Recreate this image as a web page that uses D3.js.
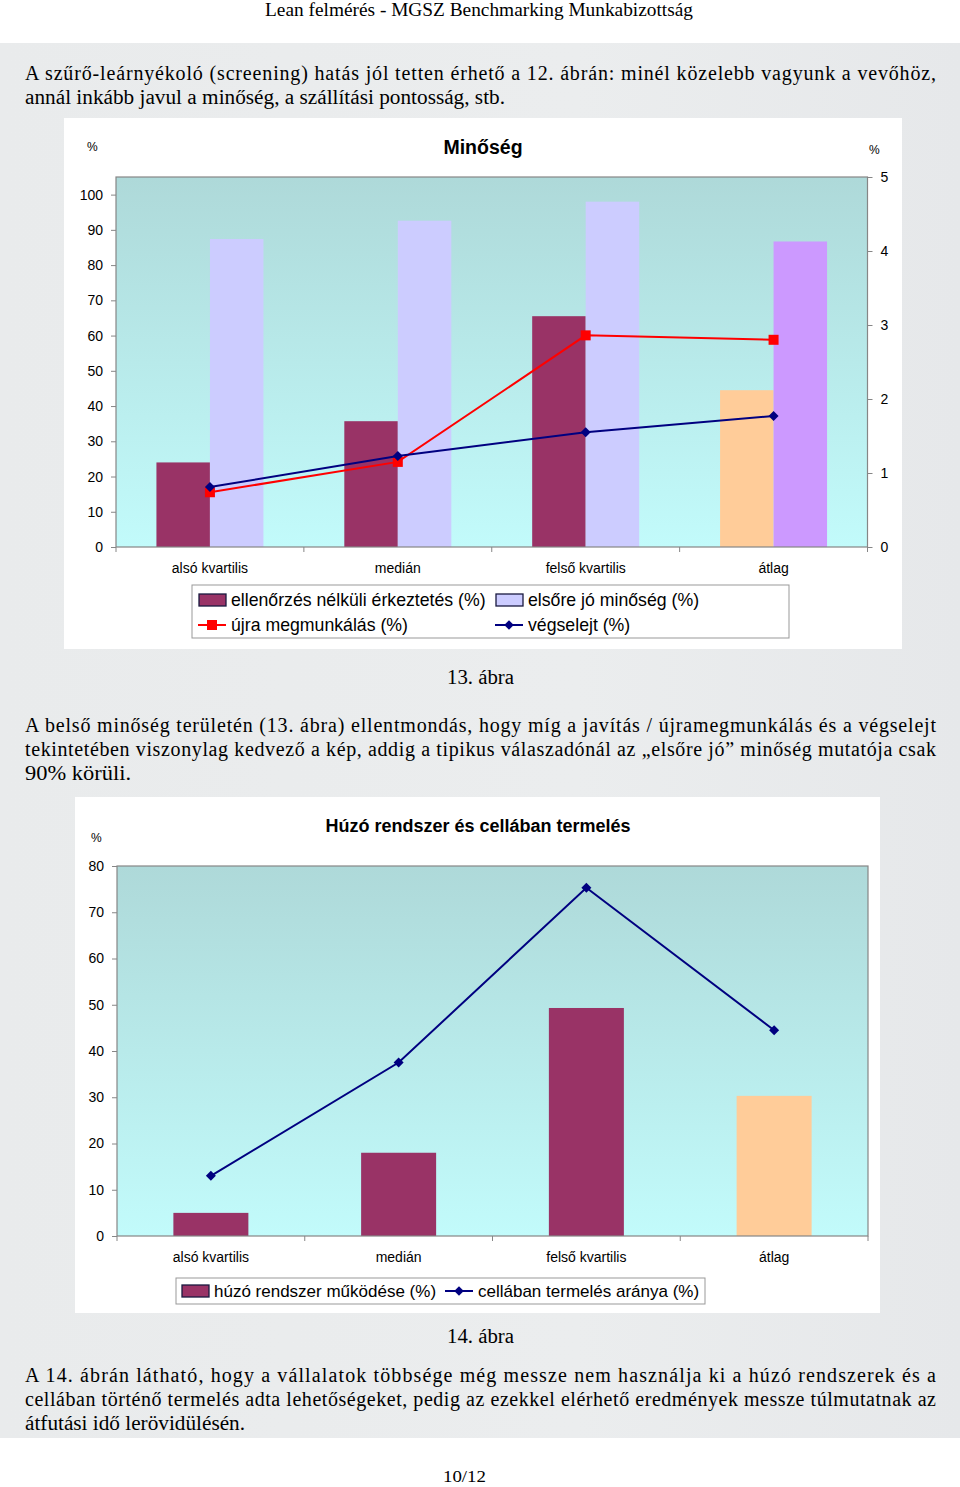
<!DOCTYPE html>
<html><head><meta charset="utf-8">
<script src="https://cdn.jsdelivr.net/npm/d3@7"></script>
<style>html,body{margin:0;padding:0;background:#fff;}svg{display:block;}</style>
</head><body>
<script>
// ---------- DATA ----------
const categories = ["alsó kvartilis", "medián", "felső kvartilis", "átlag"];
// Chart 13 (Minőség)
const barSeries1 = ["ellenőrzés nélküli érkeztetés (%)", "elsőre jó minőség (%)"];
const ellenorzesNelkul = [24, 35.7, 65.5, 44.5];
const elsoreJo = [87.4, 92.6, 98, 86.7];
const ujraMegmunkalas = [0.74, 1.15, 2.86, 2.8];
const vegselejt = [0.81, 1.23, 1.55, 1.77];
const leftTicks1 = [0, 10, 20, 30, 40, 50, 60, 70, 80, 90, 100];
const rightTicks1 = [0, 1, 2, 3, 4, 5];
// Chart 14 (Húzó rendszer)
const huzoRendszer = [5, 18, 49.3, 30.3];
const cellabanTermeles = [13, 37.5, 75.3, 44.5];
const leftTicks2 = [0, 10, 20, 30, 40, 50, 60, 70, 80];

// ---------- STYLE ----------
const C = {maroon:"#993366", lav:"#CCCCFF", peach:"#FFCC99", purple:"#CC99FF", red:"#FF0000", navy:"#000080", axis:"#868686"};
const pointColors1 = [[C.maroon, C.maroon, C.maroon, C.peach],[C.lav, C.lav, C.lav, C.purple]];
const pointColors2 = [C.maroon, C.maroon, C.maroon, C.peach];
const SANS = "Liberation Sans, Arial, sans-serif";
const SERIF = "Liberation Serif, Times New Roman, serif";

const svg = d3.select("body").append("svg").attr("width", 960).attr("height", 1487);
const defs = svg.append("defs");
const grad = defs.append("linearGradient").attr("id","pg").attr("x1",0).attr("y1",0).attr("x2",0).attr("y2",1);
grad.append("stop").attr("offset","0%").attr("stop-color","#aed9d9");
grad.append("stop").attr("offset","100%").attr("stop-color","#c2fbfb");
const bgGrad = defs.append("linearGradient").attr("id","bg").attr("x1",0).attr("y1",0).attr("x2",1).attr("y2",0);
bgGrad.append("stop").attr("offset","0%").attr("stop-color","#e9ebec");
bgGrad.append("stop").attr("offset","60%").attr("stop-color","#ebedee");
bgGrad.append("stop").attr("offset","100%").attr("stop-color","#e6e8ea");

svg.append("rect").attr("width",960).attr("height",1487).attr("fill","#fff");
svg.append("rect").attr("x",0).attr("y",43).attr("width",960).attr("height",1395).attr("fill","url(#bg)");

// header
svg.append("text").attr("x",265).attr("y",16).attr("font-family",SERIF).attr("font-size",19)
  .attr("textLength",428).attr("lengthAdjust","spacingAndGlyphs").text("Lean felmérés - MGSZ Benchmarking Munkabizottság");

function para(lines, y0) {
  lines.forEach((l, i) => {
    svg.append("text").attr("x",25).attr("y", y0 + i*24).attr("font-family",SERIF).attr("font-size",20)
      .attr("textLength", l[1]).attr("lengthAdjust", l[2] || "spacing").text(l[0]);
  });
}
para([["A szűrő-leárnyékoló (screening) hatás jól tetten érhető a 12. ábrán: minél közelebb vagyunk a vevőhöz,",911],
      ["annál inkább javul a minőség, a szállítási pontosság, stb.",480,"spacingAndGlyphs"]], 80);
para([["A belső minőség területén (13. ábra) ellentmondás, hogy míg a javítás / újramegmunkálás és a végselejt",911],
      ["tekintetében viszonylag kedvező a kép, addig a tipikus válaszadónál az „elsőre jó” minőség mutatója csak",911],
      ["90%  körüli.",106,"spacingAndGlyphs"]], 732);
para([["A 14. ábrán látható, hogy a vállalatok többsége még messze nem használja ki a húzó rendszerek és a",911],
      ["cellában történő termelés adta lehetőségeket, pedig az ezekkel elérhető eredmények messze túlmutatnak az",911],
      ["átfutási idő lerövidülésén.",220,"spacingAndGlyphs"]], 1382);

function caption(t, y, w) {
  svg.append("text").attr("x",447).attr("y",y).attr("font-family",SERIF).attr("font-size",20)
    .attr("textLength",w).attr("lengthAdjust","spacingAndGlyphs").text(t);
}
caption("13. ábra", 684, 67);
caption("14. ábra", 1343, 67);
svg.append("text").attr("x",443).attr("y",1482).attr("font-family",SERIF).attr("font-size",17)
  .attr("textLength",43).attr("lengthAdjust","spacingAndGlyphs").text("10/12");

// ---------- CHART 13 ----------
const g1 = svg.append("g");
g1.append("rect").attr("x",64).attr("y",118).attr("width",838).attr("height",531).attr("fill","#fff");
const P1 = {l:116, r:867.5, t:177, b:547};
g1.append("rect").attr("x",P1.l).attr("y",P1.t).attr("width",P1.r-P1.l).attr("height",P1.b-P1.t).attr("fill","url(#pg)");
const x1 = d3.scaleBand().domain(categories).range([P1.l, P1.r]);
const yL1 = d3.scaleLinear().domain([0,105]).range([P1.b, P1.t]);
const yR1 = d3.scaleLinear().domain([0,5]).range([P1.b, P1.t]);
const bw1 = 53.5;
const xs1 = d3.scaleBand().domain(barSeries1).range([-bw1, bw1]);
[ellenorzesNelkul, elsoreJo].forEach((vals, si) => {
  g1.append("g").selectAll("rect").data(vals).join("rect")
    .attr("x", (d,i) => x1(categories[i]) + x1.bandwidth()/2 + xs1(barSeries1[si]))
    .attr("width", xs1.bandwidth())
    .attr("y", d => yL1(d)).attr("height", d => P1.b - yL1(d))
    .attr("fill", (d,i) => pointColors1[si][i]);
});
const cx1 = (d,i) => x1(categories[i]) + x1.bandwidth()/2;
const line1 = d3.line().x(cx1).y(d => yR1(d));
g1.append("path").datum(ujraMegmunkalas).attr("d", line1).attr("fill","none").attr("stroke",C.red).attr("stroke-width",2);
g1.append("g").selectAll("rect").data(ujraMegmunkalas).join("rect")
  .attr("x",(d,i)=>cx1(d,i)-5).attr("y",d=>yR1(d)-5).attr("width",10).attr("height",10).attr("fill",C.red);
g1.append("path").datum(vegselejt).attr("d", line1).attr("fill","none").attr("stroke",C.navy).attr("stroke-width",2);
g1.append("g").selectAll("path").data(vegselejt).join("path")
  .attr("d", d3.symbol().type(d3.symbolSquare).size(50)).attr("transform",(d,i)=>`translate(${cx1(d,i)},${yR1(d)}) rotate(45)`)
  .attr("fill",C.navy);
// border
g1.append("rect").attr("x",P1.l).attr("y",P1.t).attr("width",P1.r-P1.l).attr("height",P1.b-P1.t)
  .attr("fill","none").attr("stroke",C.axis).attr("stroke-width",1.2);
// axes
function styleAxis(g, size) {
  g.select(".domain").remove();
  g.selectAll("line").attr("stroke",C.axis);
  g.selectAll("text").attr("font-family",SANS).attr("font-size",size).attr("fill","#000");
}
g1.append("g").attr("transform",`translate(${P1.l},0)`)
  .call(d3.axisLeft(yL1).tickValues(leftTicks1).tickSize(5).tickPadding(8).tickSizeOuter(0))
  .call(g => styleAxis(g, 14));
g1.append("g").attr("transform",`translate(${P1.r},0)`)
  .call(d3.axisRight(yR1).tickValues(rightTicks1).tickFormat(d3.format("d")).tickSize(5).tickPadding(8).tickSizeOuter(0))
  .call(g => styleAxis(g, 14));
g1.append("g").attr("transform",`translate(0,${P1.b})`)
  .call(d3.axisBottom(x1).tickSize(0).tickPadding(16))
  .call(g => styleAxis(g, 14));
g1.append("g").selectAll("line").data(categories.concat(["_end"])).join("line")
  .attr("x1",(d,i)=>P1.l + i*x1.step()).attr("x2",(d,i)=>P1.l + i*x1.step())
  .attr("y1",P1.b).attr("y2",P1.b+5).attr("stroke",C.axis);
g1.append("text").attr("x",483).attr("y",154).attr("text-anchor","middle").attr("font-family",SANS)
  .attr("font-size",19.5).attr("font-weight","bold").text("Minőség");
g1.append("text").attr("x",87).attr("y",151).attr("font-family",SANS).attr("font-size",12).text("%");
g1.append("text").attr("x",869).attr("y",154).attr("font-family",SANS).attr("font-size",12).text("%");
// legend
function legRect(g, x, y, fill, label, fs) {
  g.append("rect").attr("x",x).attr("y",y-6).attr("width",27).attr("height",12).attr("fill",fill).attr("stroke","#1a1a40").attr("stroke-width",1.3);
  g.append("text").attr("x",x+32).attr("y",y+6).attr("font-family",SANS).attr("font-size",fs).text(label);
}
function legLine(g, x, y, color, marker, label, fs) {
  g.append("line").attr("x1",x).attr("x2",x+28).attr("y1",y).attr("y2",y).attr("stroke",color).attr("stroke-width",2);
  if (marker === "square") g.append("rect").attr("x",x+9).attr("y",y-5).attr("width",10).attr("height",10).attr("fill",color);
  else g.append("path").attr("d", d3.symbol().type(d3.symbolSquare).size(45)()).attr("transform",`translate(${x+14},${y}) rotate(45)`).attr("fill",color);
  g.append("text").attr("x",x+33).attr("y",y+6).attr("font-family",SANS).attr("font-size",fs).text(label);
}
const lg1 = g1.append("g");
lg1.append("rect").attr("x",192).attr("y",585).attr("width",597).attr("height",53).attr("fill","#fff").attr("stroke","#999");
legRect(lg1, 199, 600, C.maroon, barSeries1[0], 17.7);
legRect(lg1, 496, 600, C.lav, barSeries1[1], 17.7);
legLine(lg1, 198, 625, C.red, "square", "újra megmunkálás (%)", 17.7);
legLine(lg1, 495, 625, C.navy, "diamond", "végselejt (%)", 17.7);

// ---------- CHART 14 ----------
const g2 = svg.append("g");
g2.append("rect").attr("x",75).attr("y",797).attr("width",805).attr("height",516).attr("fill","#fff");
const P2 = {l:117, r:868, t:866, b:1236};
g2.append("rect").attr("x",P2.l).attr("y",P2.t).attr("width",P2.r-P2.l).attr("height",P2.b-P2.t).attr("fill","url(#pg)");
const x2 = d3.scaleBand().domain(categories).range([P2.l, P2.r]);
const y2 = d3.scaleLinear().domain([0,80]).range([P2.b, P2.t]);
const cx2 = (d,i) => x2(categories[i]) + x2.bandwidth()/2;
g2.append("g").selectAll("rect").data(huzoRendszer).join("rect")
  .attr("x",(d,i)=>cx2(d,i)-37.5).attr("width",75)
  .attr("y",d=>y2(d)).attr("height",d=>P2.b-y2(d)).attr("fill",(d,i)=>pointColors2[i]);
g2.append("path").datum(cellabanTermeles).attr("d", d3.line().x(cx2).y(d=>y2(d)))
  .attr("fill","none").attr("stroke",C.navy).attr("stroke-width",2);
g2.append("g").selectAll("path").data(cellabanTermeles).join("path")
  .attr("d", d3.symbol().type(d3.symbolSquare).size(50)).attr("transform",(d,i)=>`translate(${cx2(d,i)},${y2(d)}) rotate(45)`)
  .attr("fill",C.navy);
g2.append("rect").attr("x",P2.l).attr("y",P2.t).attr("width",P2.r-P2.l).attr("height",P2.b-P2.t)
  .attr("fill","none").attr("stroke",C.axis).attr("stroke-width",1.2);
g2.append("g").attr("transform",`translate(${P2.l},0)`)
  .call(d3.axisLeft(y2).tickValues(leftTicks2).tickSize(5).tickPadding(8).tickSizeOuter(0))
  .call(g => styleAxis(g, 14));
g2.append("g").attr("transform",`translate(0,${P2.b})`)
  .call(d3.axisBottom(x2).tickSize(0).tickPadding(16))
  .call(g => styleAxis(g, 14));
g2.append("g").selectAll("line").data(categories.concat(["_end"])).join("line")
  .attr("x1",(d,i)=>P2.l + i*x2.step()).attr("x2",(d,i)=>P2.l + i*x2.step())
  .attr("y1",P2.b).attr("y2",P2.b+5).attr("stroke",C.axis);
g2.append("text").attr("x",478).attr("y",832).attr("text-anchor","middle").attr("font-family",SANS)
  .attr("font-size",18).attr("font-weight","bold").text("Húzó rendszer és cellában termelés");
g2.append("text").attr("x",91).attr("y",842).attr("font-family",SANS).attr("font-size",12).text("%");
const lg2 = g2.append("g");
lg2.append("rect").attr("x",176).attr("y",1278).attr("width",529).attr("height",26).attr("fill","#fff").attr("stroke","#999");
legRect(lg2, 182, 1291, C.maroon, "húzó rendszer működése (%)", 17);
legLine(lg2, 445, 1291, C.navy, "diamond", "cellában termelés aránya (%)", 17);
</script>
</body></html>
